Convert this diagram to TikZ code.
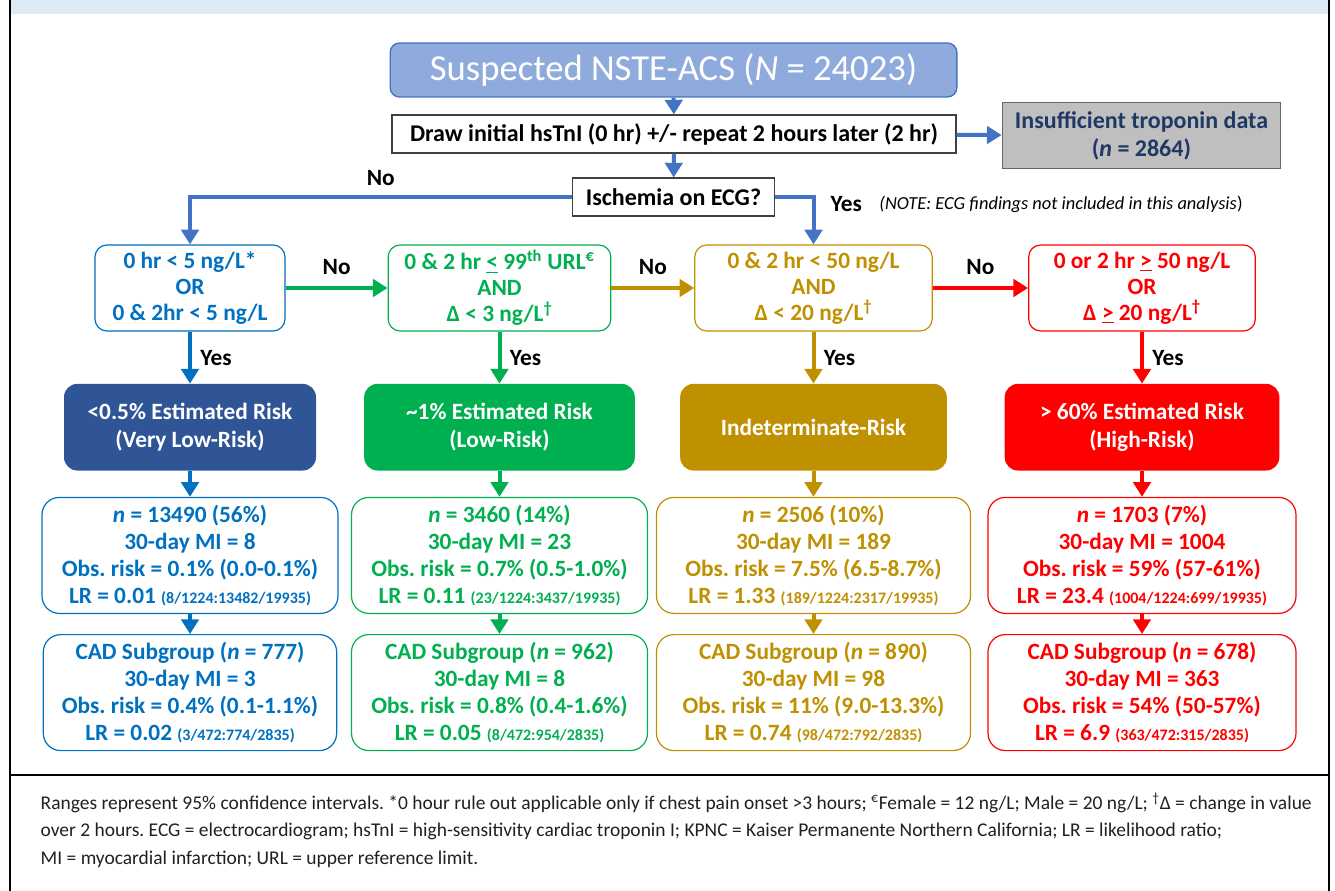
\documentclass[tikz,border=0pt]{standalone}
\usepackage{fontspec}
\setmainfont{Carlito}
\usepackage{xcolor}
\usepackage{tikz}
\usetikzlibrary{arrows.meta,positioning}
\frenchspacing

\definecolor{cblue}{HTML}{0070C0}
\definecolor{lineblue}{HTML}{4472C4}
\definecolor{navy}{HTML}{2F5597}
\definecolor{cgreen}{HTML}{00B050}
\definecolor{cgold}{HTML}{BF9000}
\definecolor{cred}{HTML}{FF0000}
\definecolor{titlefill}{HTML}{8FAADC}
\definecolor{bandblue}{HTML}{DEEBF7}
\definecolor{darknavy}{HTML}{1F3864}
\definecolor{notegray}{HTML}{231F20}

\newcommand{\lrsmall}[1]{{\fontsize{12}{12}\selectfont #1}}

\begin{document}
\begin{tikzpicture}[
        x=0.75pt,y=-0.75pt,
        >={Triangle[width=13pt,length=11pt]},
        titlebox/.style={rectangle,draw=lineblue,line width=1pt,fill=titlefill,rounded corners=7pt,text=white,minimum width=425pt,minimum height=40.5pt,font=\fontsize{27.5}{30}\selectfont},
        stepbox/.style={rectangle,draw=black!75,fill=white,line width=0.8pt,minimum height=28.5pt,font=\fontsize{18}{20}\selectfont\bfseries},
        greybox/.style={rectangle,draw=black!60,line width=0.8pt,fill=black!25,text=darknavy,align=center,minimum width=209pt,minimum height=50pt,font=\fontsize{18}{21}\selectfont\bfseries},
        cond/.style={rectangle,fill=white,rounded corners=9pt,line width=0.9pt,align=center,minimum height=64.5pt,inner sep=2pt,font=\fontsize{17.5}{19.5}\selectfont\bfseries},
        risk/.style={rectangle,rounded corners=10pt,text=white,align=center,minimum height=65pt,font=\fontsize{17.5}{21}\selectfont\bfseries},
        stats/.style={rectangle,fill=white,rounded corners=13pt,line width=0.9pt,align=center,minimum height=87pt,inner sep=2pt,font=\fontsize{17.5}{20.25}\selectfont\bfseries},
        vlow/.style={draw=cblue,text=cblue},
        low/.style={draw=cgreen,text=cgreen},
        mid/.style={draw=cgold,text=cgold},
        high/.style={draw=cred,text=cred},
        lbl/.style={text=black,font=\fontsize{17.5}{20}\selectfont\bfseries},
        arrow/.style={->,line width=3pt}
    ]
        \useasboundingbox (0,0) rectangle (1335,891);
        \fill[bandblue] (10,0) rectangle (1328,14);
        \draw[line width=1.5pt] (9.5,0) -- (9.5,891) (1328.5,0) -- (1328.5,891) (9.5,775) -- (1328.5,775);

        \node[titlebox] (suspect) at (673.5,70) {Suspected NSTE-ACS (\textit{N} = 24023)};
        \node[stepbox,minimum width=423pt] (hstni) at (674,134) {Draw initial hsTnI (0 hr) +/- repeat 2 hours later (2 hr)};
        \node[greybox] (nodata) at (1141.5,135.5) {Insufficient troponin data\\(\textit{n} = 2864)};
        \node[stepbox,minimum width=152pt] (ecg) at (673.5,197) {Ischemia on ECG?};

        \node[cond,vlow,minimum width=142.5pt] (rule1) at (190,288) {0 hr < 5 ng/L*\\OR\\0 \& 2hr < 5 ng/L};
        \node[cond,low,minimum width=167pt] (rule2) at (499.5,288) {0 \& 2 hr \underline{<} 99\textsuperscript{th} URL\textsuperscript{€}\\AND\\Δ < 3 ng/L\textsuperscript{†}};
        \node[cond,mid,minimum width=178pt] (rule3) at (813.5,288) {0 \& 2 hr < 50 ng/L\\AND\\Δ < 20 ng/L\textsuperscript{†}};
        \node[cond,high,minimum width=170pt] (rule4) at (1142,288) {0 or 2 hr \underline{>} 50 ng/L\\OR\\Δ \underline{>} 20 ng/L\textsuperscript{†}};

        \node[risk,fill=navy,minimum width=189pt,below=39pt of rule1] (risk1) {<0.5\% Estimated Risk\\(Very Low-Risk)};
        \node[risk,fill=cgreen,minimum width=203pt,below=39pt of rule2] (risk2) {\textasciitilde1\% Estimated Risk\\(Low-Risk)};
        \node[risk,fill=cgold,minimum width=200pt,below=39pt of rule3] (risk3) {Indeterminate-Risk};
        \node[risk,fill=cred,minimum width=206pt,below=39pt of rule4] (risk4) {> 60\% Estimated Risk\\(High-Risk)};

        \node[stats,vlow,minimum width=222pt,below=19.5pt of risk1] (all1) {\textit{n} = 13490 (56\%)\\30-day MI = 8\\Obs. risk = 0.1\% (0.0-0.1\%)\\LR = 0.01 \lrsmall{(8/1224:13482/19935)}};
        \node[stats,low,minimum width=222pt,below=19.5pt of risk2] (all2) {\textit{n} = 3460 (14\%)\\30-day MI = 23\\Obs. risk = 0.7\% (0.5-1.0\%)\\LR = 0.11 \lrsmall{(23/1224:3437/19935)}};
        \node[stats,mid,minimum width=235.5pt,below=19.5pt of risk3] (all3) {\textit{n} = 2506 (10\%)\\30-day MI = 189\\Obs. risk = 7.5\% (6.5-8.7\%)\\LR = 1.33 \lrsmall{(189/1224:2317/19935)}};
        \node[stats,high,minimum width=231pt,below=19.5pt of risk4] (all4) {\textit{n} = 1703 (7\%)\\30-day MI = 1004\\Obs. risk = 59\% (57-61\%)\\LR = 23.4 \lrsmall{(1004/1224:699/19935)}};

        \node[stats,vlow,minimum width=220pt,below=15pt of all1] (cad1) {CAD Subgroup (\textit{n} = 777)\\30-day MI = 3\\Obs. risk = 0.4\% (0.1-1.1\%)\\LR = 0.02 \lrsmall{(3/472:774/2835)}};
        \node[stats,low,minimum width=222pt,below=15pt of all2] (cad2) {CAD Subgroup (\textit{n} = 962)\\30-day MI = 8\\Obs. risk = 0.8\% (0.4-1.6\%)\\LR = 0.05 \lrsmall{(8/472:954/2835)}};
        \node[stats,mid,minimum width=235.5pt,below=15pt of all3] (cad3) {CAD Subgroup (\textit{n} = 890)\\30-day MI = 98\\Obs. risk = 11\% (9.0-13.3\%)\\LR = 0.74 \lrsmall{(98/472:792/2835)}};
        \node[stats,high,minimum width=231pt,below=15pt of all4] (cad4) {CAD Subgroup (\textit{n} = 678)\\30-day MI = 363\\Obs. risk = 54\% (50-57\%)\\LR = 6.9 \lrsmall{(363/472:315/2835)}};

        \node[lbl,anchor=west] (yesecg) at (826,204) {Yes};
        \node[anchor=west,text=black,font=\fontsize{13.8}{16}\selectfont,right=6pt of yesecg] (note) {{\itshape (NOTE: ECG findings not included in this analysis})};

        \node[anchor=north west,align=left,text=notegray,font=\fontsize{14.6}{20.6}\selectfont] (notes) at (36,788) {Ranges represent 95\% confidence intervals. *0 hour rule out applicable only if chest pain onset >3 hours; \textsuperscript{€}Female = 12 ng/L; Male = 20 ng/L; \textsuperscript{†}Δ = change in value\\over 2 hours. ECG = electrocardiogram; hsTnI = high-sensitivity cardiac troponin I; KPNC = Kaiser Permanente Northern California; LR = likelihood ratio;\\MI = myocardial infarction; URL = upper reference limit.};

        \draw[arrow,lineblue] (suspect) -- (hstni);
        \draw[arrow,lineblue] (hstni) -- (nodata);
        \draw[arrow,lineblue] (hstni) -- (ecg);
        \draw[arrow,lineblue] (ecg.west) -| node[lbl,pos=0.25,above=4pt] {No} (rule1);
        \draw[arrow,lineblue] (ecg.east) -| (rule3);

        \draw[arrow,cgreen] (rule1) -- node[lbl,above=5pt] {No} (rule2);
        \draw[arrow,cgold] (rule2) -- node[lbl,above=5pt] {No} (rule3);
        \draw[arrow,cred] (rule3) -- node[lbl,above=5pt] {No} (rule4);

        \draw[arrow,cblue] (rule1) -- node[lbl,right=3pt] {Yes} (risk1);
        \draw[arrow,cgreen] (rule2) -- node[lbl,right=3pt] {Yes} (risk2);
        \draw[arrow,cgold] (rule3) -- node[lbl,right=3pt] {Yes} (risk3);
        \draw[arrow,cred] (rule4) -- node[lbl,right=3pt] {Yes} (risk4);

        \draw[arrow,cblue] (risk1) -- (all1);
        \draw[arrow,cgreen] (risk2) -- (all2);
        \draw[arrow,cgold] (risk3) -- (all3);
        \draw[arrow,cred] (risk4) -- (all4);

        \draw[arrow,cblue] (all1) -- (cad1);
        \draw[arrow,cgreen] (all2) -- (cad2);
        \draw[arrow,cgold] (all3) -- (cad3);
        \draw[arrow,cred] (all4) -- (cad4);
    \end{tikzpicture}
\end{document}
